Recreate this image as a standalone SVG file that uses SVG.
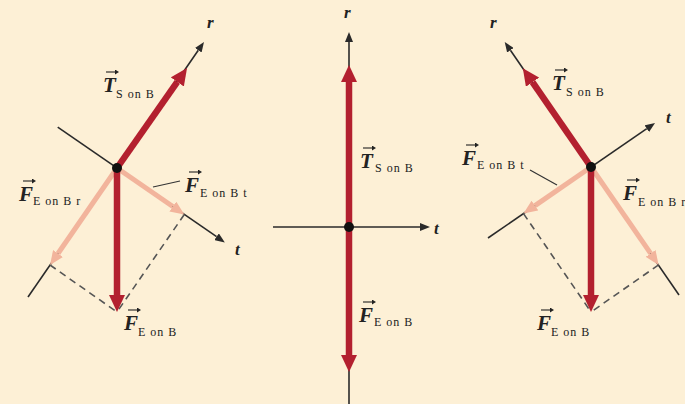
<svg xmlns="http://www.w3.org/2000/svg" width="685" height="404" viewBox="0 0 685 404">
<defs>
<style>
.ax{stroke:#2a2a2a;stroke-width:1.6;fill:none}
.axh{marker-end:url(#ahk)}
.dash{stroke:#555;stroke-width:1.6;stroke-dasharray:7 5;fill:none}
.red{stroke:#B3202F;stroke-width:6.5;fill:none;marker-end:url(#ahr)}
.lt{stroke:#F2B49C;stroke-width:5;fill:none;marker-end:url(#ahl)}
.ld{stroke:#333;stroke-width:1.2;fill:none}
.vec{stroke:#222;stroke-width:1.1;fill:none;marker-end:url(#ahv)}
.v{font-family:"Liberation Serif",serif;font-style:italic;font-weight:bold;font-size:21px;fill:#222}
.s{font-family:"Liberation Serif",serif;font-size:12px;letter-spacing:1px;fill:#222}
.a{font-family:"Liberation Serif",serif;font-style:italic;font-weight:bold;font-size:17px;fill:#222}
.dot{fill:#111}
</style>
<marker id="ahr" markerUnits="userSpaceOnUse" markerWidth="18" markerHeight="16" refX="0" refY="8" orient="auto"><path d="M0,0 L17,8 L0,16 z" fill="#B3202F"/></marker>
<marker id="ahl" markerUnits="userSpaceOnUse" markerWidth="15" markerHeight="12" refX="0" refY="6" orient="auto"><path d="M0,0 L14,6 L0,12 z" fill="#F2B49C"/></marker>
<marker id="ahk" markerUnits="userSpaceOnUse" markerWidth="11" markerHeight="8" refX="0" refY="4" orient="auto"><path d="M0,0 L10,4 L0,8 z" fill="#2a2a2a"/></marker>
<marker id="ahv" markerUnits="userSpaceOnUse" markerWidth="5" markerHeight="5" refX="0" refY="2.5" orient="auto"><path d="M0,0 L4,2.5 L0,5 z" fill="#222"/></marker>
</defs>
<rect width="685" height="404" fill="#FDF0D6"/>

<g id="connectors">
<!-- left panel -->
<line class="ax axh" x1="28" y1="297" x2="198.3" y2="50.2"/>
<line class="ax axh" x1="57.7" y1="127.1" x2="216.6" y2="236.7"/>
<line class="dash" x1="50" y1="265" x2="117" y2="312"/>
<line class="dash" x1="184.3" y1="214.5" x2="117" y2="312"/>
<line class="lt" x1="117" y1="168" x2="58" y2="253.5"/>
<line class="lt" x1="117" y1="168" x2="172.8" y2="206.5"/>
<line class="red" x1="117" y1="168" x2="177.3" y2="81.9"/>
<line class="red" x1="117" y1="168" x2="117" y2="295"/>
<line class="ld" x1="153" y1="187" x2="180" y2="181"/>
<!-- middle panel -->
<line class="ax axh" x1="349" y1="404" x2="349" y2="42"/>
<line class="ax axh" x1="273" y1="227" x2="420" y2="227"/>
<line class="red" x1="349" y1="227" x2="349" y2="82"/>
<line class="red" x1="349" y1="227" x2="349" y2="355"/>
<!-- right panel -->
<line class="ax axh" x1="679" y1="295" x2="510.4" y2="50.2"/>
<line class="ax axh" x1="488" y1="238" x2="646.8" y2="128.7"/>
<line class="dash" x1="523.5" y1="213.6" x2="591" y2="312"/>
<line class="dash" x1="658.6" y1="264.9" x2="591" y2="312"/>
<line class="lt" x1="591" y1="167" x2="650.6" y2="253.4"/>
<line class="lt" x1="591" y1="167" x2="535" y2="205.6"/>
<line class="red" x1="591" y1="167" x2="532.5" y2="82.2"/>
<line class="red" x1="591" y1="167" x2="591" y2="295"/>
<line class="ld" x1="530" y1="170" x2="557" y2="185"/>
</g>

<g id="node-left">
<circle class="dot" cx="117" cy="168" r="5"/>
<text class="a" x="207" y="28">r</text>
<text class="a" x="235" y="255">t</text>
<line class="vec" x1="106" y1="72" x2="115" y2="72"/>
<text class="v" x="103" y="92">T</text><text class="s" x="116" y="98">S on B</text>
<line class="vec" x1="189" y1="172" x2="198" y2="172"/>
<text class="v" x="185" y="192">F</text><text class="s" x="200" y="197">E on B t</text>
<line class="vec" x1="23" y1="181" x2="32" y2="181"/>
<text class="v" x="19" y="201">F</text><text class="s" x="33" y="205">E on B r</text>
<line class="vec" x1="128" y1="310" x2="137" y2="310"/>
<text class="v" x="124" y="330">F</text><text class="s" x="138" y="336">E on B</text>
</g>

<g id="node-middle">
<circle class="dot" cx="349" cy="227" r="5"/>
<text class="a" x="344" y="18">r</text>
<text class="a" x="434" y="234">t</text>
<line class="vec" x1="363" y1="148" x2="372" y2="148"/>
<text class="v" x="360" y="168">T</text><text class="s" x="375" y="172">S on B</text>
<line class="vec" x1="363" y1="302" x2="372" y2="302"/>
<text class="v" x="359" y="322">F</text><text class="s" x="374" y="326">E on B</text>
</g>

<g id="node-right">
<circle class="dot" cx="591" cy="167" r="5"/>
<text class="a" x="490" y="28">r</text>
<text class="a" x="666" y="123">t</text>
<line class="vec" x1="555" y1="70" x2="564" y2="70"/>
<text class="v" x="552" y="90">T</text><text class="s" x="566" y="96">S on B</text>
<line class="vec" x1="466" y1="145" x2="475" y2="145"/>
<text class="v" x="462" y="165">F</text><text class="s" x="477" y="169">E on B t</text>
<line class="vec" x1="627" y1="180" x2="636" y2="180"/>
<text class="v" x="623" y="200">F</text><text class="s" x="638" y="206">E on B r</text>
<line class="vec" x1="541" y1="310" x2="550" y2="310"/>
<text class="v" x="537" y="330">F</text><text class="s" x="551" y="336">E on B</text>
</g>
</svg>
